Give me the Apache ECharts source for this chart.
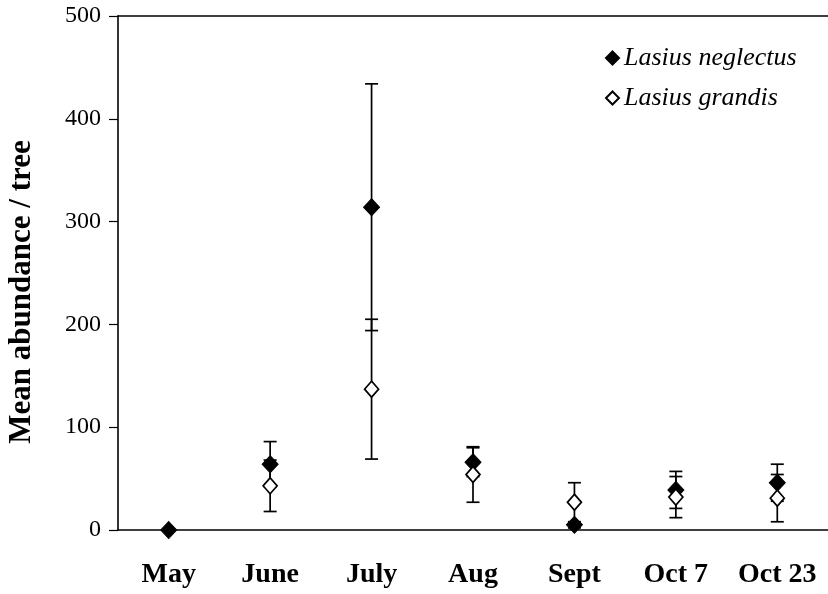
<!DOCTYPE html>
<html>
<head>
<meta charset="utf-8">
<title>Mean abundance per tree</title>
<script src="https://cdn.jsdelivr.net/npm/echarts@6/dist/echarts.min.js"></script>
<style>
  html, body { margin: 0; padding: 0; background: #fff; }
  #chart { width: 828px; height: 594px; }
</style>
</head>
<body>
<div id="chart"></div>
<script>
// Sampling dates
const categories = ['May', 'June', 'July', 'Aug', 'Sept', 'Oct 7', 'Oct 23'];

// Lasius neglectus: mean abundance per tree and its error (±)
const neglectusMean = [0, 64, 314, 66, 5, 39, 46];
const neglectusErr  = [0, 22, 120, 14, 3, 18, 18];

// Lasius grandis: mean abundance per tree and its error (±); not recorded in May
const grandisMean = [null, 43, 137, 54, 27, 32, 31];
const grandisErr  = [null, 25, 68, 27, 19, 20, 23];

// Value axis ticks
const yTicks = [0, 100, 200, 300, 400, 500];

const SERIF = '"Liberation Serif", "Times New Roman", serif';

function errorRows(means, errs) {
  const rows = [];
  means.forEach((m, i) => {
    if (m === null || errs[i] === null) return;
    rows.push([i, m - errs[i], m + errs[i]]);
  });
  return rows;
}

function renderErrorBar(params, api) {
  const x = api.value(0);
  const lo = api.coord([x, api.value(1)]);
  const hi = api.coord([x, api.value(2)]);
  const half = 6.5;
  const style = { stroke: '#000', lineWidth: 1.7, fill: null };
  return {
    type: 'group',
    children: [
      { type: 'line', shape: { x1: hi[0], y1: hi[1], x2: lo[0], y2: lo[1] }, style },
      { type: 'line', shape: { x1: hi[0] - half, y1: hi[1], x2: hi[0] + half, y2: hi[1] }, style },
      { type: 'line', shape: { x1: lo[0] - half, y1: lo[1], x2: lo[0] + half, y2: lo[1] }, style }
    ]
  };
}

const chart = echarts.init(document.getElementById('chart'), null, { renderer: 'canvas' });

chart.setOption({
  animation: false,
  backgroundColor: '#fff',
  textStyle: { fontFamily: SERIF, color: '#000' },
  grid: { left: 118, top: 16, width: 714, height: 514, containLabel: false },
  legend: {
    orient: 'vertical',
    left: 600,
    top: 40,
    itemGap: 14,
    itemWidth: 13,
    itemHeight: 13,
    data: ['Lasius neglectus', 'Lasius grandis'],
    textStyle: { fontFamily: SERIF, fontStyle: 'italic', fontSize: 26, color: '#000' }
  },
  // Rotated value-axis title
  graphic: [
    {
      type: 'text',
      x: 22,
      y: 292,
      rotation: Math.PI / 2,
      style: {
        text: 'Mean abundance / tree',
        font: 'bold 31px ' + SERIF,
        fill: '#000',
        align: 'center',
        verticalAlign: 'middle'
      }
    }
  ],
  xAxis: [
    {
      type: 'category',
      data: categories,
      boundaryGap: true,
      axisLine: { show: true, lineStyle: { color: '#000', width: 1.6 } },
      axisTick: { show: false },
      axisLabel: {
        interval: 0,
        hideOverlap: false,
        margin: 31,
        fontFamily: SERIF,
        fontWeight: 'bold',
        fontSize: 28,
        color: '#000'
      },
      splitLine: { show: false }
    },
    {
      type: 'category',
      data: categories,
      position: 'top',
      axisLine: { show: true, lineStyle: { color: '#000', width: 1.6 } },
      axisTick: { show: false },
      axisLabel: { show: false },
      splitLine: { show: false }
    }
  ],
  yAxis: {
    type: 'value',
    min: yTicks[0],
    max: yTicks[yTicks.length - 1],
    interval: 100,
    axisLine: { show: true, lineStyle: { color: '#000', width: 1.6 } },
    axisTick: { show: true, inside: false, length: 9, lineStyle: { color: '#000', width: 1.2 } },
    axisLabel: { margin: 17, fontFamily: SERIF, fontSize: 24, color: '#000' },
    splitLine: { show: false }
  },
  series: [
    {
      name: 'neglectus error',
      type: 'custom',
      renderItem: renderErrorBar,
      data: errorRows(neglectusMean, neglectusErr),
      encode: { x: 0, y: [1, 2] },
      z: 1,
      silent: true
    },
    {
      name: 'grandis error',
      type: 'custom',
      renderItem: renderErrorBar,
      data: errorRows(grandisMean, grandisErr),
      encode: { x: 0, y: [1, 2] },
      z: 1,
      silent: true
    },
    {
      name: 'Lasius neglectus',
      type: 'scatter',
      symbol: 'diamond',
      symbolSize: [16, 17],
      data: neglectusMean,
      itemStyle: { color: '#000', borderColor: '#000', borderWidth: 1, opacity: 1 },
      z: 3
    },
    {
      name: 'Lasius grandis',
      type: 'scatter',
      symbol: 'diamond',
      symbolSize: [14, 16],
      data: grandisMean,
      itemStyle: { color: '#fff', borderColor: '#000', borderWidth: 1.7, opacity: 1 },
      z: 4
    }
  ]
});
</script>
</body>
</html>
